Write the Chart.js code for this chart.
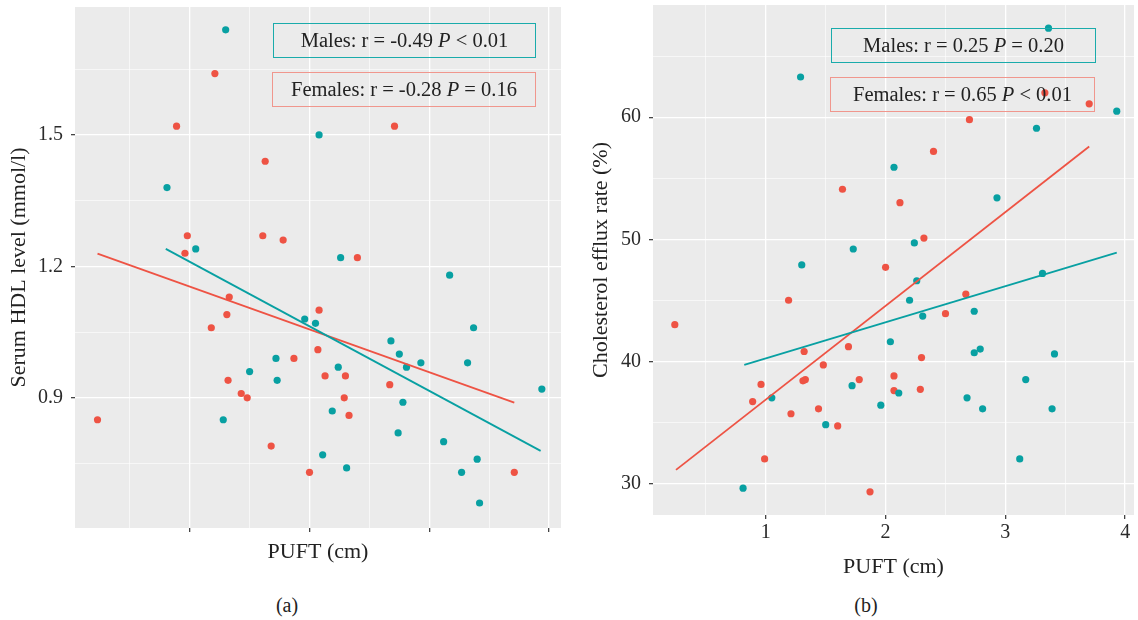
<html>
<head>
<meta charset="utf-8">
<title>PUFT correlations</title>
<script src="https://cdn.jsdelivr.net/npm/chart.js@4.4.0/dist/chart.umd.min.js"></script>
<style>
  body { margin: 0; width: 1138px; height: 620px; overflow: hidden; position: relative; background: #fff;
         font-family: "Liberation Serif", "DejaVu Serif", serif; color: #222; }
  .panel { position: absolute; }
  .box { position: absolute; box-sizing: border-box; border: 1.5px solid; display: flex; align-items: center;
         justify-content: center; font-size: 20.5px; white-space: nowrap; pointer-events: none; }
  .teal { border-color: #1aabab; }
  .pink { border-color: #f0968d; }
  .cap { position: absolute; font-size: 20px; transform: translate(-50%, -50%); }
</style>
</head>
<body>

<div class="panel" style="left:0; top:0; width:565px; height:580px"><canvas id="chartA"></canvas></div>
<div class="panel" style="left:578px; top:0; width:560px; height:590px"><canvas id="chartB"></canvas></div>

<div class="box teal" style="left:273px; top:23px; width:263px; height:35px">Males: r = -0.49&nbsp;<i>P</i>&nbsp;&lt; 0.01</div>
<div class="box pink" style="left:272px; top:72px; width:264px; height:35px">Females: r = -0.28&nbsp;<i>P</i>&nbsp;= 0.16</div>
<div class="box teal" style="left:831px; top:28px; width:265px; height:35px">Males: r = 0.25&nbsp;<i>P</i>&nbsp;= 0.20</div>
<div class="box pink" style="left:830px; top:77px; width:265px; height:35px">Females: r = 0.65&nbsp;<i>P</i>&nbsp;&lt; 0.01</div>

<div class="cap" style="left:287px; top:605px">(a)</div>
<div class="cap" style="left:866px; top:605px">(b)</div>

<script>

// (a) serum HDL vs PUFT
const hdlMalesX = [1.30, 0.81, 1.05, 2.08, 2.26, 3.17, 1.96, 2.05, 2.68, 2.75, 2.81, 2.93, 3.37, 3.32, 1.72,
  1.50, 1.73, 2.24, 3.94, 2.78, 1.28, 2.19, 2.74, 3.12, 2.11, 2.31, 3.27, 3.40, 3.42];
const hdlMalesY = [1.74, 1.38, 1.24, 1.50, 1.22, 1.18, 1.08, 1.07, 1.03, 1.00, 0.97, 0.98, 1.06, 0.98, 0.99,
  0.96, 0.94, 0.97, 0.92, 0.89, 0.85, 0.87, 0.82, 0.80, 0.77, 0.74, 0.73, 0.76, 0.66];
const hdlFemalesX = [1.21, 0.89, 2.71, 1.63, 0.98, 1.61, 1.78, 0.96, 2.40, 1.33, 2.08, 1.31, 1.18, 2.07,
  1.87, 1.32, 2.13, 2.30, 1.43, 1.48, 2.29, 2.67, 2.33, 0.23, 1.68, 2.00, 3.71];
const hdlFemalesY = [1.64, 1.52, 1.52, 1.44, 1.27, 1.27, 1.26, 1.23, 1.22, 1.13, 1.10, 1.09, 1.06, 1.01,
  0.99, 0.94, 0.95, 0.95, 0.91, 0.90, 0.90, 0.93, 0.86, 0.85, 0.79, 0.73, 0.73];
const hdlFitMalesX = [0.80, 3.93];
const hdlFitMalesY = [1.240, 0.779];
const hdlFitFemalesX = [0.23, 3.71];
const hdlFitFemalesY = [1.229, 0.889];

// (b) cholesterol efflux vs PUFT
const effMalesX = [3.36, 1.29, 3.26, 3.93, 2.07, 2.93, 1.73, 2.24, 1.30, 2.26, 3.31, 2.20, 2.31, 2.74, 2.04,
  2.79, 2.74, 3.41, 3.17, 1.72, 2.11, 1.05, 2.68, 1.96, 2.81, 3.39, 1.50, 3.12, 0.81];
const effMalesY = [67.3, 63.3, 59.1, 60.5, 55.9, 53.4, 49.2, 49.7, 47.9, 46.6, 47.2, 45.0, 43.7, 44.1, 41.6,
  41.0, 40.7, 40.6, 38.5, 38.0, 37.4, 37.0, 37.0, 36.4, 36.1, 36.1, 34.8, 32.0, 29.6];
const effFemalesX = [3.33, 3.70, 2.70, 2.40, 1.64, 2.12, 2.32, 2.00, 1.19, 2.67, 2.50, 0.24, 1.69, 1.32, 2.30,
  1.48, 2.07, 1.33, 1.31, 1.78, 0.96, 2.07, 2.29, 0.89, 1.44, 1.21, 1.60, 0.99, 1.87];
const effFemalesY = [62.0, 61.1, 59.8, 57.2, 54.1, 53.0, 50.1, 47.7, 45.0, 45.5, 43.9, 43.0, 41.2, 40.8, 40.3,
  39.7, 38.8, 38.5, 38.4, 38.5, 38.1, 37.6, 37.7, 36.7, 36.1, 35.7, 34.7, 32.0, 29.3];
const effFitMalesX = [0.82, 3.93];
const effFitMalesY = [39.7, 48.9];
const effFitFemalesX = [0.25, 3.70];
const effFitFemalesY = [31.1, 57.6];

// ticks (grid incl. minor lines) and labelled majors
const puftTicks = [0.5, 1, 1.5, 2, 2.5, 3, 3.5, 4];
const puftMajors = [1, 2, 3, 4];
const hdlTicks = [0.75, 0.9, 1.05, 1.2, 1.35, 1.5, 1.65];
const hdlMajors = [0.9, 1.2, 1.5];
const effTicks = [30, 35, 40, 45, 50, 55, 60, 65];
const effMajors = [30, 40, 50, 60];

const TEAL = '#08a0a2';
const RED = '#ee5344';

Chart.defaults.font.family = '"Liberation Serif", "DejaVu Serif", serif';
Chart.defaults.font.size = 20;
Chart.defaults.color = '#333';

const panelBg = {
  id: 'panelBg',
  beforeDraw(chart) {
    const a = chart.chartArea;
    const ctx = chart.ctx;
    ctx.save();
    ctx.fillStyle = '#ebebeb';
    ctx.fillRect(a.left, a.top, a.right - a.left, a.bottom - a.top);
    ctx.restore();
  }
};

function pts(xs, ys) {
  return xs.map((x, i) => ({x: x, y: ys[i]}));
}

function isMajor(v, majors) {
  return majors.some(m => Math.abs(m - v) < 1e-9);
}

function axis(ticks, majors, showLabels, min, max, title, titlePad, size, labelPad) {
  return {
    type: 'linear',
    min: min,
    max: max,
    afterBuildTicks: s => { s.ticks = ticks.map(v => ({value: v})); },
    afterFit: s => {
      if (s.isHorizontal()) s.height = size; else s.width = size;
      s.paddingTop = 0; s.paddingBottom = 0; s.paddingLeft = 0; s.paddingRight = 0;
    },
    border: {display: false},
    grid: {
      color: '#ffffff',
      lineWidth: c => (c.tick && isMajor(c.tick.value, majors)) ? 1.3 : 0.6,
      tickColor: c => (c.tick && isMajor(c.tick.value, majors)) ? '#444' : 'rgba(0,0,0,0)',
      tickLength: 4
    },
    ticks: {
      autoSkip: false,
      maxRotation: 0,
      padding: labelPad,
      color: '#2a2a2a',
      callback: v => (showLabels && isMajor(v, majors)) ? String(v) : ''
    },
    title: {display: true, text: title, color: '#222', font: {size: 22}, padding: titlePad}
  };
}

function makeChart(id, males, females, fitM, fitF, xAxis, yAxis, pad) {
  return new Chart(document.getElementById(id), {
    type: 'scatter',
    data: {
      datasets: [
        {data: fitM, showLine: true, borderColor: TEAL, borderWidth: 1.8, pointRadius: 0},
        {data: fitF, showLine: true, borderColor: RED, borderWidth: 1.8, pointRadius: 0},
        {data: males, backgroundColor: TEAL, borderWidth: 0, pointRadius: 3.6},
        {data: females, backgroundColor: RED, borderWidth: 0, pointRadius: 3.6}
      ]
    },
    options: {
      responsive: true,
      maintainAspectRatio: false,
      animation: false,
      layout: {padding: pad},
      plugins: {legend: {display: false}, tooltip: {enabled: false}},
      scales: {x: xAxis, y: yAxis}
    },
    plugins: [panelBg]
  });
}

makeChart('chartA',
  pts(hdlMalesX, hdlMalesY), pts(hdlFemalesX, hdlFemalesY),
  pts(hdlFitMalesX, hdlFitMalesY), pts(hdlFitFemalesX, hdlFitFemalesY),
  axis(puftTicks, puftMajors, false, 0.042, 4.10, 'PUFT (cm)', {top: 0, bottom: 15}, 52, 3),
  axis(hdlTicks, hdlMajors, true, 0.603, 1.792, 'Serum HDL level (mmol/l)', {top: 6, bottom: 0}, 75, 8),
  {top: 7, right: 4, left: 0, bottom: 0});

makeChart('chartB',
  pts(effMalesX, effMalesY), pts(effFemalesX, effFemalesY),
  pts(effFitMalesX, effFitMalesY), pts(effFitFemalesX, effFitFemalesY),
  axis(puftTicks, puftMajors, true, 0.058, 4.074, 'PUFT (cm)', {top: 0, bottom: 10}, 75, 2),
  axis(effTicks, effMajors, true, 27.4, 69.2, 'Cholesterol efflux rate (%)', {top: 10, bottom: 0}, 75, 8),
  {top: 5, right: 0, left: 0, bottom: 0});

</script>
</body>
</html>
